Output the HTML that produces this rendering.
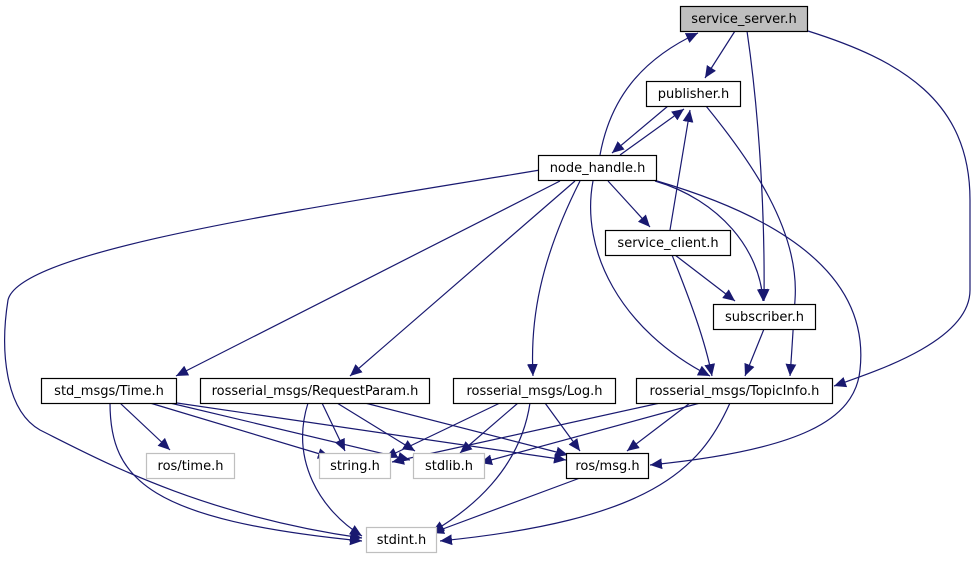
<!DOCTYPE html>
<html><head><meta charset="utf-8"><style>
html,body{margin:0;padding:0;background:#fff;}
svg text{font-family:"DejaVu Sans","Liberation Sans",sans-serif;font-size:13px;}
</style></head><body>
<svg width="976" height="560" viewBox="0 0 976 560" xmlns="http://www.w3.org/2000/svg">
<defs><marker id="a" viewBox="0 0 10 10" refX="10" refY="5" markerWidth="12" markerHeight="12" markerUnits="userSpaceOnUse" orient="auto"><path d="M0,0.5 L10,5 L0,9.5 z" fill="#191970"/></marker></defs>
<g fill="none" stroke="#191970" stroke-width="1.2" marker-end="url(#a)">
<path d="M735,31 L705,78"/>
<path d="M747,31 C760,120 765,220 764,301"/>
<path d="M808,31 C900,60 970,100 970,200 L970,290 C970,340 880,370 834,386"/>
<path d="M600,155 C610,100 640,60 698,33"/>
<path d="M668,106 L612,153"/>
<path d="M620,155 L684,109"/>
<path d="M670,230 L690,110"/>
<path d="M706,106 C750,160 800,230 795,300 C793,330 792,350 790,376"/>
<path d="M608,181 L650,227"/>
<path d="M655,181 C720,200 760,250 763,301"/>
<path d="M657,181 C790,220 870,280 860,370 C855,420 800,450 650,465"/>
<path d="M593,181 C580,250 620,330 710,376"/>
<path d="M560,181 L176,376"/>
<path d="M575,181 L350,376"/>
<path d="M580,181 C540,260 530,320 533,376"/>
<path d="M540,170 C300,210 20,250 8,300 C0,350 5,410 40,430 C100,460 200,515 362,538"/>
<path d="M675,255 L735,301"/>
<path d="M672,255 C690,300 705,340 712,376"/>
<path d="M764,329 L745,376"/>
<path d="M120,403 L170,450"/>
<path d="M150,403 L330,457"/>
<path d="M170,403 L410,460"/>
<path d="M177,403 L566,460"/>
<path d="M110,403 C110,480 150,520 362,541"/>
<path d="M322,403 L345,451"/>
<path d="M337,403 L415,451"/>
<path d="M365,403 L568,455"/>
<path d="M308,403 C290,460 320,510 362,536"/>
<path d="M500,403 L385,458"/>
<path d="M518,403 L460,453"/>
<path d="M545,403 L580,451"/>
<path d="M530,403 C520,470 470,510 432,532"/>
<path d="M660,403 L392,462"/>
<path d="M700,403 L480,463"/>
<path d="M690,403 L627,451"/>
<path d="M730,403 C700,470 650,520 440,541"/>
<path d="M580,478 L432,533"/>
</g>
<g stroke-width="1.2">
<rect x="680.5" y="6.5" width="127" height="25" fill="#bfbfbf" stroke="#000"/>
<rect x="646.5" y="81.5" width="94" height="25" fill="#fff" stroke="#000"/>
<rect x="538.5" y="155.5" width="118" height="25" fill="#fff" stroke="#000"/>
<rect x="605.5" y="230.5" width="125" height="25" fill="#fff" stroke="#000"/>
<rect x="713.5" y="304.5" width="102" height="25" fill="#fff" stroke="#000"/>
<rect x="41.5" y="378.5" width="135" height="25" fill="#fff" stroke="#000"/>
<rect x="200.5" y="378.5" width="229" height="25" fill="#fff" stroke="#000"/>
<rect x="453.5" y="378.5" width="162" height="25" fill="#fff" stroke="#000"/>
<rect x="636.5" y="378.5" width="196" height="25" fill="#fff" stroke="#000"/>
<rect x="146.5" y="453.5" width="88" height="25" fill="#fff" stroke="#bfbfbf"/>
<rect x="319.5" y="453.5" width="71" height="25" fill="#fff" stroke="#bfbfbf"/>
<rect x="413.5" y="453.5" width="71" height="25" fill="#fff" stroke="#bfbfbf"/>
<rect x="566.5" y="453.5" width="82" height="25" fill="#fff" stroke="#000"/>
<rect x="366.5" y="527.5" width="70" height="25" fill="#fff" stroke="#bfbfbf"/>
</g>
<g text-anchor="middle" fill="#000">
<text x="744" y="23">service_server.h</text>
<text x="693.5" y="98">publisher.h</text>
<text x="597.5" y="172">node_handle.h</text>
<text x="668" y="247">service_client.h</text>
<text x="764.5" y="321">subscriber.h</text>
<text x="109" y="395">std_msgs/Time.h</text>
<text x="315" y="395">rosserial_msgs/RequestParam.h</text>
<text x="534.5" y="395">rosserial_msgs/Log.h</text>
<text x="734.5" y="395">rosserial_msgs/TopicInfo.h</text>
<text x="190.5" y="470">ros/time.h</text>
<text x="355" y="470">string.h</text>
<text x="449" y="470">stdlib.h</text>
<text x="607.5" y="470">ros/msg.h</text>
<text x="401.5" y="544">stdint.h</text>
</g>
</svg>
</body></html>
